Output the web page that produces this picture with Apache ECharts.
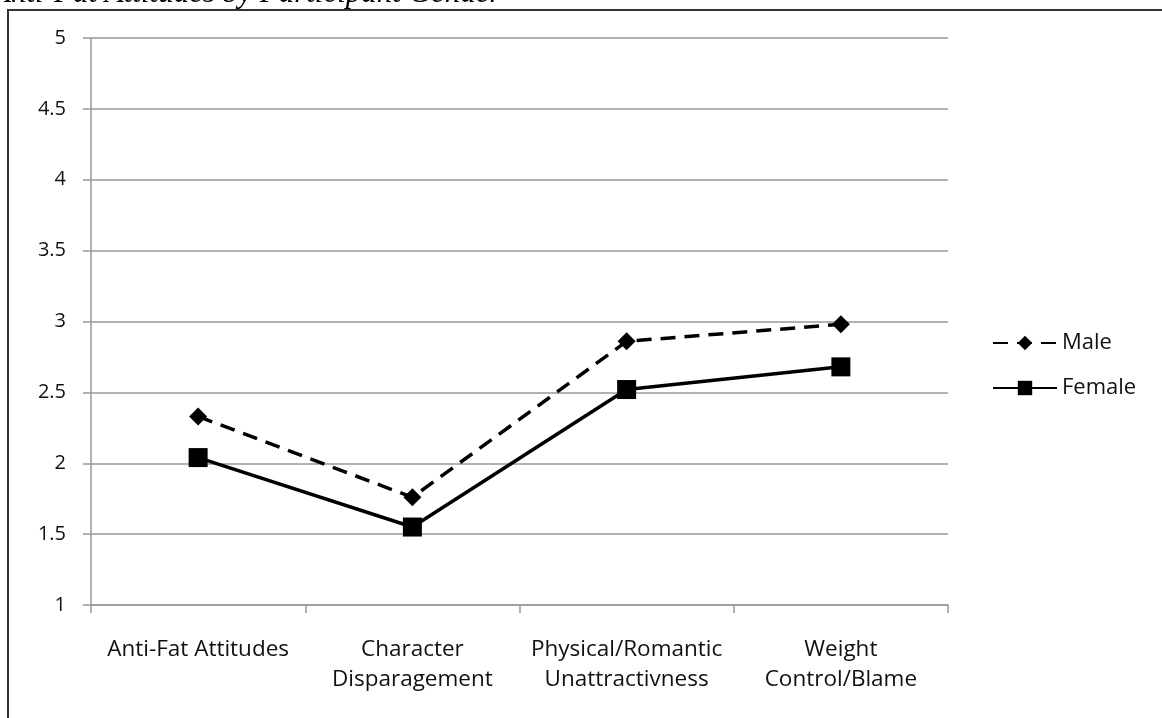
<!DOCTYPE html>
<html><head><meta charset="utf-8">
<script src="https://cdn.jsdelivr.net/npm/echarts@6/dist/echarts.min.js"></script>
<style>html,body{margin:0;padding:0;background:#fff}#c{width:1162px;height:718px}</style>
</head><body><div id="c"></div>
<script>
const categories = ['Anti-Fat Attitudes', 'Character\nDisparagement', 'Physical/Romantic\nUnattractivness', 'Weight\nControl/Blame'];
const maleValues = [2.33, 1.76, 2.86, 2.98];
const femaleValues = [2.04, 1.55, 2.52, 2.68];
const yTicks = [1, 1.5, 2, 2.5, 3, 3.5, 4, 4.5, 5];
const titleText = 'Anti-Fat Attitudes by Participant Gender';

const chart = echarts.init(document.getElementById('c'));
const lab = {color: '#111', fontFamily: 'Open Sans, Liberation Sans, sans-serif', fontSize: 20};
chart.setOption({
  animation: false,
  backgroundColor: '#fff',
  graphic: [
    {type: 'rect', shape: {x: 8, y: 10, width: 1170, height: 730}, style: {fill: 'none', stroke: '#333', lineWidth: 2}, z: 9},
    {type: 'text', left: -8, top: -22, style: {text: titleText, font: 'italic 31px "Liberation Serif", "DejaVu Serif", serif', fill: '#000'}, z: 10}
  ],
  legend: {
    orient: 'vertical', left: 987, top: 327, itemWidth: 64, itemHeight: 18, itemGap: 23,
    textStyle: Object.assign({}, lab, {fontSize: 22}),
    data: ['Male', 'Female']
  },
  grid: {left: 91, right: 214, top: 38, bottom: 113, containLabel: false},
  xAxis: {
    type: 'category', data: categories, boundaryGap: true,
    axisLine: {lineStyle: {color: '#999', width: 1.5}},
    axisTick: {show: true, length: 8, lineStyle: {color: '#999', width: 1.5}},
    axisLabel: Object.assign({}, lab, {fontSize: 22.5, margin: 30, lineHeight: 30, interval: 0})
  },
  yAxis: {
    type: 'value', min: 1, max: 5, interval: 0.5,
    axisLine: {show: true, lineStyle: {color: '#999', width: 1.5}},
    axisTick: {show: true, length: 8, lineStyle: {color: '#999', width: 1.5}},
    splitLine: {lineStyle: {color: '#999', width: 1.5}},
    axisLabel: Object.assign({}, lab, {margin: 25, formatter: v => String(v)})
  },
  series: [
    {name: 'Male', type: 'line', data: maleValues, symbol: 'diamond', symbolSize: 18,
     lineStyle: {color: '#000', width: 3.5, type: [15, 9]}, itemStyle: {color: '#000'}},
    {name: 'Female', type: 'line', data: femaleValues, symbol: 'rect', symbolSize: 19,
     lineStyle: {color: '#000', width: 3.5}, itemStyle: {color: '#000'}}
  ]
});
</script></body></html>
